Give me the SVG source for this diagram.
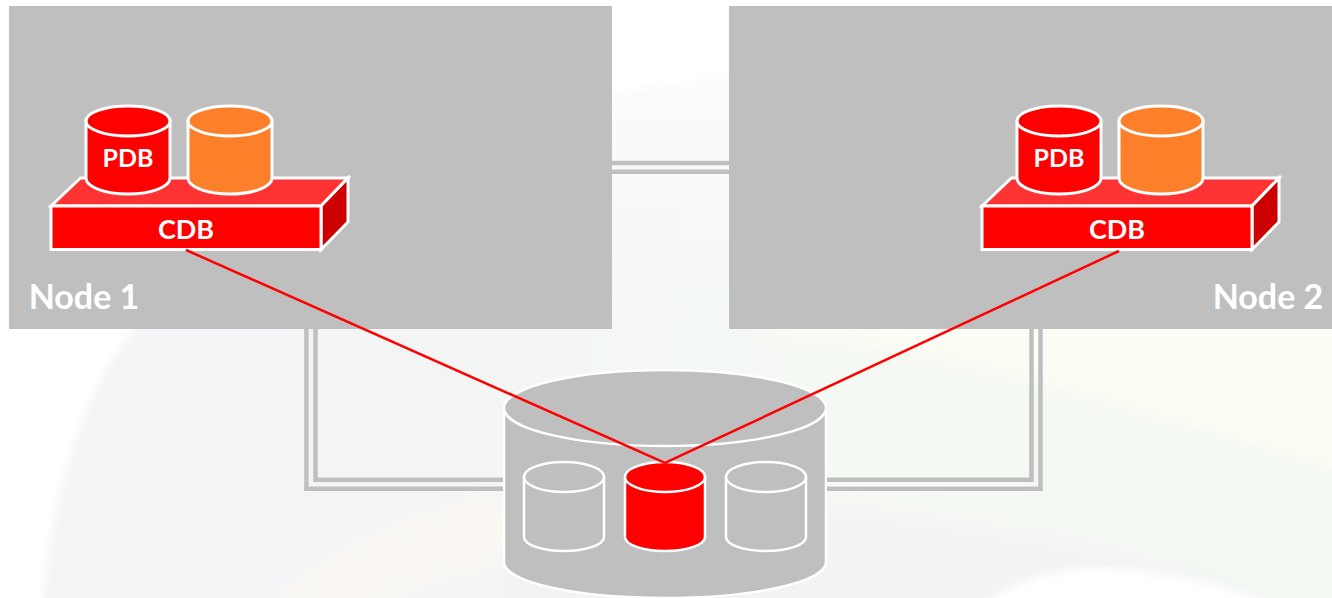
<svg xmlns="http://www.w3.org/2000/svg" width="1332" height="598" viewBox="0 0 1332 598">
<style>
.panel{fill:#bfbfbf}
.out{stroke:#fff;stroke-width:3}
.thin{stroke:#fff;stroke-width:2.5}
.gray{fill:#bfbfbf}
.red{fill:#ff0000}
.orange{fill:#fc7f2a}
.top{fill:#ff3333}
.side{fill:#cc0000}
.bus{fill:none;stroke:#bfbfbf;stroke-width:4.500}
.link{fill:none;stroke:#ff0000;stroke-width:2.500}
text{font-family:"Lato","Open Sans","Liberation Sans",sans-serif;font-weight:700;fill:#fff;text-anchor:middle}
.s{font-size:25px}
.c{font-size:27px}
.l{font-size:34px}
</style>
<defs>
<linearGradient id="sw" x1="0" y1="0" x2="1" y2="0">
<stop offset="0" stop-color="#f3f5f6"/>
<stop offset=".3" stop-color="#f3f5f5"/>
<stop offset=".5" stop-color="#f4f8f5"/>
<stop offset=".62" stop-color="#f5f9f3"/>
<stop offset="1" stop-color="#f3f8f3"/>
</linearGradient>
<linearGradient id="fade" x1="0" y1="0" x2="0" y2="1">
<stop offset="0" stop-color="#fff" stop-opacity=".6"/>
<stop offset="1" stop-color="#fff" stop-opacity="0"/>
</linearGradient>
<filter id="b3" x="-5%" y="-5%" width="110%" height="110%"><feGaussianBlur stdDeviation="4"/></filter>
<filter id="b8" x="-15%" y="-15%" width="130%" height="130%"><feGaussianBlur stdDeviation="10"/></filter>
<g id="cyl">
<path d="M-42,0V57A42,16 0 0 0 42,57V0Z"/>
<ellipse cx="0" cy="0" rx="42" ry="15"/>
</g>
<g id="mini">
<path d="M-40,0V60A40,14 0 0 0 40,60V0Z"/>
<ellipse cx="0" cy="0" rx="40" ry="15"/>
</g>
<g id="slab">
<path class="top out" d="M51,206L80.500,178H348L321,206Z"/>
<path class="side out" d="M321,206L348,178V222L321,249.500Z"/>
<rect class="red out" x="51" y="206" width="270" height="43.500"/>
</g>
</defs>
<g id="background">
<rect width="1332" height="598" fill="#fff"/>
<path filter="url(#b3)" fill="url(#sw)" d="M43,610C48,500 85,385 135,329C250,190 500,95 729,77C900,65 1200,60 1340,60V610Z"/>
<rect x="500" y="75" width="300" height="270" fill="url(#fade)"/>
<path filter="url(#b8)" fill="#fcfdf4" d="M760,70C900,60 1200,55 1350,55V476C1230,440 1100,400 1000,372C940,356 850,340 760,330Z"/>
<path filter="url(#b8)" fill="#f3f3f4" d="M826,505C950,520 1120,540 1270,610H500V500Z"/>
<path filter="url(#b8)" fill="#fbf8f3" d="M270,610C320,550 420,510 510,495V560C450,570 400,590 370,610Z"/>
<path filter="url(#b3)" fill="#fff" d="M975,610C1020,575 1070,566 1105,568C1160,570 1230,585 1290,610Z"/>
</g>
<g id="node-1">
<rect class="panel" x="9" y="6" width="603" height="323"/>
<use href="#slab"/>
<g transform="translate(128,121)"><use href="#cyl" class="red out"/></g>
<g transform="translate(230,121)"><use href="#cyl" class="orange out"/></g>
<text class="s" x="128" y="167">PDB</text>
<text class="c" x="186" y="239">CDB</text>
<text class="l" x="84" y="309">Node 1</text>
</g>
<g id="node-2">
<rect class="panel" x="729" y="6" width="603" height="323"/>
<use href="#slab" x="931"/>
<g transform="translate(1059,121)"><use href="#cyl" class="red out"/></g>
<g transform="translate(1161,121)"><use href="#cyl" class="orange out"/></g>
<text class="s" x="1059" y="167">PDB</text>
<text class="c" x="1117" y="239">CDB</text>
<text class="l" x="1268" y="309">Node 2</text>
</g>
<g id="storage">
<path class="gray thin" d="M504,407V562A161,36 0 0 0 826,562V407Z"/>
<ellipse class="gray thin" cx="665" cy="408" rx="161" ry="38"/>
<g transform="translate(564,477)"><use href="#mini" class="gray thin"/></g>
<g transform="translate(665,477)"><use href="#mini" class="red thin"/></g>
<g transform="translate(766,477)"><use href="#mini" class="gray thin"/></g>
</g>
<g id="connectors">
<path class="bus" d="M612,163H729M612,171.700H729"/>
<path class="bus" d="M306.400,329V488.700H503M315.500,329V479.700H503"/>
<path class="bus" d="M1040.500,329V488.700H827M1031.500,329V479.700H827"/>
<path class="link" d="M186,250L665,463L1119,251"/>
</g>
</svg>
